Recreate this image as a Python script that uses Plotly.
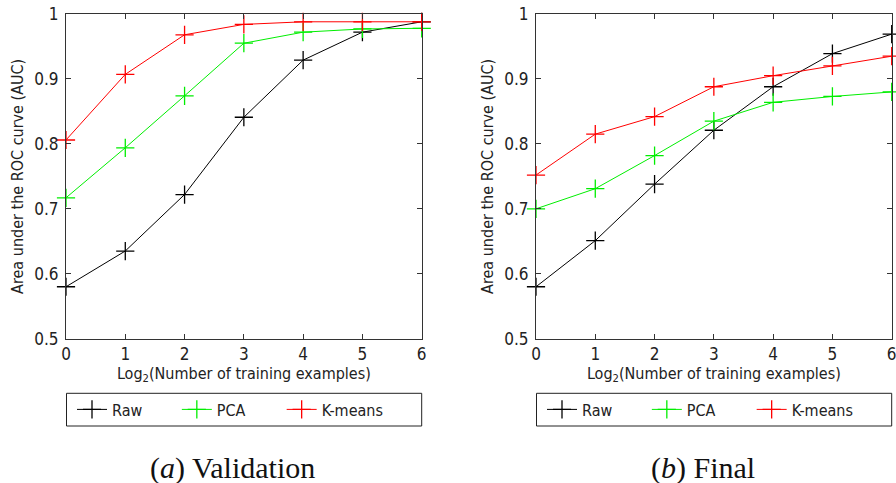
import plotly.graph_objects as go

x_vals = [0, 1, 2, 3, 4, 5, 6]
series_names = ["Raw", "PCA", "K-means"]
series_colors = ["#000000", "#00ee00", "#ff0000"]

val_raw = [0.580, 0.635, 0.722, 0.841, 0.929, 0.972, 0.988]
val_pca = [0.717, 0.794, 0.874, 0.955, 0.972, 0.977, 0.978]
val_kmeans = [0.806, 0.907, 0.968, 0.984, 0.988, 0.988, 0.988]

fin_raw = [0.580, 0.651, 0.738, 0.821, 0.888, 0.939, 0.969]
fin_pca = [0.700, 0.731, 0.782, 0.835, 0.864, 0.873, 0.880]
fin_kmeans = [0.752, 0.815, 0.842, 0.888, 0.905, 0.920, 0.935]

y_ticks = [0.5, 0.6, 0.7, 0.8, 0.9, 1.0]
y_tick_text = ["0.5", "0.6", "0.7", "0.8", "0.9", "1"]
captions = ["(<i>a</i>) Validation", "(<i>b</i>) Final"]
x_title = "Log<sub>2</sub>(Number of training examples)"
y_title = "Area under the ROC curve (AUC)"

SANS = "Liberation Sans Narrow, Arial Narrow, DejaVu Sans Condensed, sans-serif"
SERIF = "Liberation Serif, DejaVu Serif, serif"

W, H = 896, 483
fig = go.Figure()

panels = [
    ([val_raw, val_pca, val_kmeans], "x", "y", "legend", (66, 421.7)),
    ([fin_raw, fin_pca, fin_kmeans], "x2", "y2", "legend2", (536, 891.7)),
]
y_top, y_bot = 14, 338.7

for i, (data, xa, ya, lg, (px0, px1)) in enumerate(panels):
    for name, vals, col in zip(series_names, data, series_colors):
        fig.add_trace(go.Scatter(
            x=x_vals, y=vals, name=name, mode="lines+markers",
            xaxis=xa, yaxis=ya, legend=lg, cliponaxis=False,
            line=dict(color=col, width=1),
            marker=dict(symbol="cross-thin", size=13, line=dict(width=1.3, color=col)),
        ))

common_axis = dict(
    showline=True, linecolor="#333333", linewidth=1, mirror="allticks",
    ticks="inside", ticklen=5, tickcolor="#333333", showgrid=False, zeroline=False,
    automargin=False, ticklabeloverflow="allow",
    tickfont=dict(family=SANS, size=17, color="#222222"),
)

layout = dict(
    template="none",
    width=W, height=H, margin=dict(l=0, r=0, t=0, b=0, autoexpand=False),
    paper_bgcolor="white", plot_bgcolor="white",
    font=dict(family=SANS, color="#222222"),
)

for i, (data, xa, ya, lg, (px0, px1)) in enumerate(panels):
    xk = "xaxis" if i == 0 else "xaxis2"
    yk = "yaxis" if i == 0 else "yaxis2"
    layout[xk] = dict(common_axis, domain=[px0 / W, px1 / W], range=[0, 6],
                      tickvals=x_vals, ticktext=[str(v) for v in x_vals],
                      anchor=ya.replace("axis", ""),
                      title=dict(text=x_title, font=dict(family=SANS, size=16), standoff=4))
    layout[yk] = dict(common_axis, domain=[1 - y_bot / H, 1 - y_top / H], range=[0.5, 1],
                      tickvals=y_ticks, ticktext=y_tick_text,
                      anchor=xa, ticklabelstandoff=3,
                      title=dict(text=y_title, font=dict(family=SANS, size=16), standoff=6))
    layout[lg] = dict(
        orientation="h", x=(px0 + 6) / W, xanchor="left",
        y=1 - 409.5 / H, yanchor="middle",
        bgcolor="rgba(0,0,0,0)", borderwidth=0,
        font=dict(family=SANS, size=16, color="#222222"),
        itemwidth=30, entrywidth=0.117, entrywidthmode="fraction",
    )

fig.update_layout(**layout)

shapes = []
annotations = []
for i, (data, xa, ya, lg, (px0, px1)) in enumerate(panels):
    shapes.append(dict(type="rect", xref="paper", yref="paper",
                       x0=(px0 + 0.5) / W, x1=px1 / W, y0=1 - 426 / H, y1=1 - 393.3 / H,
                       line=dict(color="#222222", width=1)))
    annotations.append(dict(text=captions[i], xref="paper", yref="paper",
                            x=((px0 + px1) / 2 - 11) / W, y=1 - 468 / H,
                            xanchor="center", yanchor="middle", showarrow=False,
                            font=dict(family=SERIF, size=30, color="#111111")))
fig.update_layout(shapes=shapes, annotations=annotations)

fig.write_html("out.html", config={"displayModeBar": False},
               post_script="document.body.style.margin='0';document.body.style.overflow='hidden';")
